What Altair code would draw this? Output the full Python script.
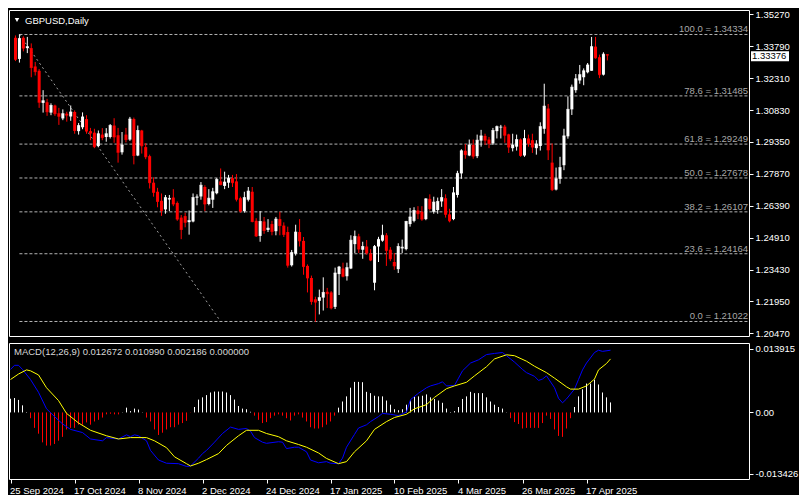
import json
import altair as alt
import pandas as pd

# ---------------- data ----------------
symbol_title = "GBPUSD,Daily"

opens = [1.3418,1.3320,1.3418,1.3370,1.3370,1.3285,1.3265,1.3116,1.3119,1.3071,
1.3104,1.3068,1.3044,1.3066,1.3053,1.3074,1.2985,1.3003,1.3041,1.2985,
1.2978,1.2916,1.2969,1.2958,1.2958,1.3011,1.2966,1.2887,1.2969,1.2946,
1.3041,1.2872,1.2988,1.2911,1.2869,1.2746,1.2704,1.2662,1.2622,1.2668,
1.2677,1.2652,1.2584,1.2591,1.2563,1.2566,1.2677,1.2682,1.2726,1.2647,
1.2667,1.2697,1.2752,1.2731,1.2746,1.2767,1.2752,1.2674,1.2614,1.2667,
1.2704,1.2569,1.2499,1.2566,1.2527,1.2554,1.2521,1.2577,1.2547,1.2517,
1.2363,1.2417,1.2517,1.2476,1.2360,1.2304,1.2205,1.2198,1.2213,1.2240,
1.2237,1.2170,1.2322,1.2348,1.2312,1.2348,1.2461,1.2497,1.2435,1.2450,
1.2417,1.2282,1.2450,1.2477,1.2502,1.2435,1.2378,1.2345,1.2441,1.2438,
1.2554,1.2569,1.2617,1.2611,1.2577,1.2671,1.2611,1.2619,1.2659,1.2674,
1.2599,1.2577,1.2689,1.2789,1.2894,1.2872,1.2921,1.2869,1.2941,1.2963,
1.2946,1.2928,1.2985,1.3003,1.3006,1.2970,1.2906,1.2913,1.2946,1.2872,
1.2951,1.2943,1.2906,1.2916,1.2996,1.3090,1.2839,1.2714,1.2764,1.2827,
1.2961,1.3086,1.3175,1.3220,1.3235,1.3258,1.3265,1.3377,1.3328,1.3247,
1.3341]

highs = [1.3429,1.3434,1.3425,1.3422,1.3392,1.3306,1.3273,1.3175,1.3135,1.3114,
1.3108,1.3093,1.3086,1.3075,1.3104,1.3081,1.3023,1.3072,1.3059,1.3000,
1.2996,1.2988,1.2999,1.2999,1.3018,1.3045,1.3000,1.2981,1.3000,1.3051,
1.3048,1.3011,1.2991,1.2929,1.2876,1.2771,1.2722,1.2696,1.2689,1.2689,
1.2716,1.2659,1.2596,1.2607,1.2617,1.2696,1.2692,1.2749,1.2734,1.2716,
1.2722,1.2767,1.2812,1.2797,1.2782,1.2782,1.2786,1.2681,1.2704,1.2726,
1.2726,1.2581,1.2614,1.2587,1.2577,1.2569,1.2587,1.2611,1.2562,1.2542,
1.2434,1.2551,1.2577,1.2494,1.2367,1.2315,1.2217,1.2250,1.2307,1.2258,
1.2243,1.2352,1.2360,1.2375,1.2375,1.2502,1.2524,1.2509,1.2472,1.2480,
1.2438,1.2457,1.2495,1.2551,1.2512,1.2447,1.2420,1.2465,1.2482,1.2569,
1.2629,1.2632,1.2637,1.2637,1.2674,1.2692,1.2681,1.2677,1.2716,1.2692,
1.2625,1.2726,1.2801,1.2901,1.2925,1.2946,1.2946,1.2969,1.2991,1.2973,
1.2958,1.3000,1.3011,1.3014,1.3014,1.2973,1.2973,1.2969,1.2951,1.2991,
1.2969,1.2973,1.2943,1.3026,1.3205,1.3111,1.2928,1.2816,1.2866,1.2996,
1.3146,1.3201,1.3250,1.3292,1.3276,1.3301,1.3422,1.3422,1.3340,1.3351,
1.3341]

lows = [1.3310,1.3303,1.3355,1.3347,1.3235,1.3243,1.3093,1.3071,1.3056,1.3059,
1.3056,1.3014,1.3036,1.3029,1.3033,1.2973,1.2969,1.2994,1.2973,1.2943,
1.2906,1.2910,1.2943,1.2936,1.2951,1.2931,1.2839,1.2876,1.2933,1.2940,
1.2831,1.2869,1.2881,1.2855,1.2719,1.2681,1.2632,1.2592,1.2602,1.2614,
1.2637,1.2569,1.2484,1.2539,1.2505,1.2562,1.2641,1.2667,1.2614,1.2641,
1.2629,1.2692,1.2734,1.2716,1.2722,1.2726,1.2659,1.2607,1.2607,1.2659,
1.2562,1.2494,1.2472,1.2509,1.2517,1.2502,1.2502,1.2502,1.2494,1.2352,
1.2357,1.2408,1.2450,1.2319,1.2237,1.2180,1.2101,1.2135,1.2153,1.2165,
1.2158,1.2160,1.2225,1.2307,1.2292,1.2345,1.2420,1.2420,1.2393,1.2412,
1.2382,1.2247,1.2378,1.2472,1.2360,1.2382,1.2342,1.2327,1.2420,1.2432,
1.2542,1.2562,1.2577,1.2569,1.2572,1.2617,1.2602,1.2602,1.2634,1.2584,
1.2562,1.2572,1.2677,1.2764,1.2857,1.2869,1.2857,1.2860,1.2913,1.2921,
1.2906,1.2921,1.2951,1.2951,1.2931,1.2884,1.2891,1.2895,1.2866,1.2866,
1.2913,1.2884,1.2876,1.2895,1.2973,1.2851,1.2707,1.2710,1.2741,1.2804,
1.2950,1.3060,1.3163,1.3205,1.3198,1.3253,1.3265,1.3321,1.3231,1.3243,
1.3313]

closes = [1.3318,1.3415,1.3370,1.3377,1.3280,1.3261,1.3119,1.3126,1.3075,1.3104,
1.3066,1.3054,1.3066,1.3059,1.3074,1.2988,1.3011,1.3051,1.2985,1.2976,
1.2913,1.2973,1.2955,1.2973,1.3011,1.2958,1.2887,1.2921,1.2946,1.3041,
1.2872,1.2988,1.2917,1.2866,1.2746,1.2701,1.2659,1.2617,1.2677,1.2673,
1.2647,1.2577,1.2529,1.2562,1.2570,1.2677,1.2680,1.2734,1.2647,1.2674,
1.2704,1.2761,1.2737,1.2749,1.2767,1.2746,1.2669,1.2614,1.2677,1.2707,
1.2566,1.2499,1.2566,1.2524,1.2535,1.2520,1.2577,1.2547,1.2506,1.2363,
1.2422,1.2517,1.2476,1.2357,1.2304,1.2195,1.2192,1.2213,1.2237,1.2231,
1.2165,1.2327,1.2355,1.2312,1.2352,1.2479,1.2497,1.2438,1.2450,1.2420,
1.2387,1.2450,1.2483,1.2502,1.2432,1.2393,1.2360,1.2450,1.2447,1.2566,
1.2587,1.2617,1.2602,1.2577,1.2671,1.2626,1.2656,1.2659,1.2677,1.2599,
1.2569,1.2699,1.2789,1.2894,1.2876,1.2921,1.2869,1.2943,1.2963,1.2943,
1.2928,1.2988,1.3006,1.3004,1.2966,1.2911,1.2921,1.2946,1.2872,1.2951,
1.2928,1.2911,1.2925,1.3006,1.3101,1.2898,1.2714,1.2764,1.2816,1.2963,
1.3086,1.3189,1.3228,1.3247,1.3265,1.3292,1.3377,1.3325,1.3247,1.3342,
1.33376]

bid_price = 1.33376

price_ticks = [1.35270, 1.33790, 1.32310, 1.30830, 1.29350, 1.27870,
               1.26390, 1.24910, 1.23430, 1.21950, 1.20470]

date_tick_bars = [0, 16, 32, 48, 64, 80, 96, 112, 128, 144]
date_tick_labels = ["25 Sep 2024", "17 Oct 2024", "8 Nov 2024", "2 Dec 2024",
                    "24 Dec 2024", "17 Jan 2025", "10 Feb 2025", "4 Mar 2025",
                    "26 Mar 2025", "17 Apr 2025"]

fib_pct = [100.0, 78.6, 61.8, 50.0, 38.2, 23.6, 0.0]
fib_price = [1.34334, 1.31485, 1.29249, 1.27678, 1.26107, 1.24164, 1.21022]
fib_anchor_bars = [1, 52]

hist = [0.00300,0.00316,0.00274,0.00155,0.00010,-0.00126,-0.00337,-0.00464,-0.00654,-0.00724,
-0.00724,-0.00689,-0.00618,-0.00534,-0.00372,-0.00337,-0.00337,-0.00267,-0.00267,-0.00218,
-0.00267,-0.00197,-0.00162,-0.00112,-0.00042,-0.00028,-0.00042,-0.00042,0.00005,0.00105,
0.00028,0.00084,0.00063,0.00005,-0.00112,-0.00197,-0.00372,-0.00492,-0.00443,-0.00372,
-0.00323,-0.00323,-0.00267,-0.00232,-0.00183,-0.00005,0.00119,0.00281,0.00330,0.00379,
0.00436,0.00457,0.00457,0.00457,0.00436,0.00379,0.00281,0.00141,0.00084,0.00070,
0.00014,-0.00070,-0.00162,-0.00232,-0.00211,-0.00126,-0.00070,-0.00042,-0.00070,-0.00126,
-0.00176,-0.00070,-0.00042,-0.00112,-0.00197,-0.00323,-0.00351,-0.00351,-0.00323,-0.00267,
-0.00197,-0.00070,0.00105,0.00239,0.00351,0.00541,0.00668,0.00668,0.00661,0.00450,
0.00422,0.00365,0.00351,0.00351,0.00260,0.00169,0.00070,0.00049,0.00070,0.00169,
0.00260,0.00351,0.00351,0.00365,0.00394,0.00330,0.00295,0.00260,0.00211,0.00084,
0.00010,0.00028,0.00119,0.00295,0.00351,0.00450,0.00422,0.00422,0.00422,0.00330,
0.00239,0.00169,0.00119,0.00084,0.00005,-0.00126,-0.00211,-0.00253,-0.00351,-0.00337,
-0.00337,-0.00337,-0.00337,-0.00232,-0.00070,-0.00141,-0.00372,-0.00513,-0.00534,-0.00351,
-0.00126,0.00119,0.00351,0.00506,0.00632,0.00632,0.00717,0.00611,0.00436,0.00330,
0.00219]

macd_bars = [0,1,2,3,5,7,9,11,13,15,18,20,23,24,27,29,30,31,32,34,
35,37,39,42,44,45,47,48,49,51,53,55,57,59,60,61,63,64,67,68,
69,71,72,74,75,77,79,80,82,83,84,86,87,89,90,92,93,95,97,99,
100,102,104,105,107,108,109,111,112,113,115,117,119,121,123,124,126,128,129,131,
132,133,134,136,137,138,139,141,142,143,144,146,147,148,150]
macd_vals = [0.0094,0.0103,0.0103,0.0094,0.0072,0.0044,0.0008,-0.0009,-0.0025,-0.0037,
-0.0044,-0.0058,-0.0062,-0.0055,-0.0058,-0.0049,-0.0053,-0.0049,-0.0051,-0.0062,
-0.0083,-0.0104,-0.0111,-0.0112,-0.0118,-0.0117,-0.0100,-0.0090,-0.0083,-0.0065,
-0.0046,-0.0032,-0.0037,-0.0035,-0.0041,-0.0055,-0.0065,-0.00675,-0.0064,-0.0065,
-0.0079,-0.0076,-0.0076,-0.0086,-0.0104,-0.0110,-0.01075,-0.0111,-0.0112,-0.0100,
-0.0076,-0.0048,-0.0034,-0.0027,-0.0020,-0.0009,-0.0002,-0.0004,-0.0007,0.0001,
0.0028,0.0042,0.0054,0.0058,0.0063,0.0067,0.0058,0.0059,0.0075,0.0091,
0.0108,0.0115,0.01265,0.0129,0.0131,0.0124,0.0110,0.0094,0.0087,0.0079,
0.0070,0.0073,0.0080,0.0054,0.0031,0.0021,0.00295,0.0051,0.0072,0.0093,
0.0108,0.0131,0.0136,0.01335,0.0136]

signal_bars = [0,2,4,5,7,9,12,14,17,20,24,27,30,34,36,39,41,44,45,47,
49,52,54,57,59,62,64,67,69,72,74,77,79,82,84,86,89,91,94,96,
99,101,104,106,109,111,114,116,119,121,124,126,129,131,134,136,139,140,142,144,
146,147,149,150]
signal_vals = [0.0072,0.0084,0.0093,0.0091,0.0082,0.0054,0.0026,-0.0002,-0.0023,-0.0039,
-0.0051,-0.0058,-0.0055,-0.0055,-0.0062,-0.0077,-0.0097,-0.0112,-0.0117,-0.0111,
-0.0103,-0.0090,-0.0072,-0.0051,-0.0039,-0.0039,-0.0046,-0.0053,-0.0062,-0.0070,
-0.0076,-0.00885,-0.01005,-0.0112,-0.01075,-0.0086,-0.0062,-0.0037,-0.0020,-0.0011,
-0.0004,0.0008,0.0017,0.0033,0.0052,0.0058,0.0066,0.0080,0.0100,0.0117,
0.0126,0.0124,0.0112,0.0101,0.0087,0.0075,0.0056,0.0051,0.0051,0.0058,
0.0073,0.0093,0.0107,0.0117]

macd_ticks = [0.013915, 0.0, -0.013426]
macd_header_vals = [0.012672, 0.010990, 0.002186, 0.000000]

# ---------------- layout / style ----------------
W = 740
H_MAIN = 326
H_MACD = 136
FONT = "Liberation Sans"
FS = 9.5
bar_domain = [-0.375, -0.375 + W / 4]       # 4 px per daily bar
price_domain = [1.20349, 1.35469]
macd_domain = [-0.014548, 0.015180]

xscale = alt.Scale(domain=bar_domain, nice=False, zero=False)
yscale = alt.Scale(domain=price_domain, nice=False, zero=False)
mscale = alt.Scale(domain=macd_domain, nice=False, zero=False)

yaxis = alt.Axis(orient="right", values=price_ticks, format=".5f", tickSize=4,
                 labelPadding=2, title=None, labelBaseline="middle")
maxis = alt.Axis(orient="right", values=macd_ticks, tickSize=4, labelPadding=2,
                 title=None, labelBaseline="middle",
                 labelExpr="datum.value == 0 ? '0.00' : replace(format(datum.value, '.6f'), '\u2212', '-')")
xaxis = alt.Axis(orient="bottom", values=date_tick_bars, tickSize=4, labelAlign="left",
                 labelBaseline="top", labelPadding=2, labelOffset=-1, labelFlush=False,
                 labelOverlap=False, title=None,
                 labelExpr=f"{json.dumps(date_tick_labels)}[indexof({json.dumps(date_tick_bars)}, datum.value)]")

# ---------------- tables ----------------
cdf = pd.DataFrame({"k": list(range(len(opens))), "o": opens, "h": highs, "l": lows, "c": closes})
cdf["dir"] = ["up" if c >= o else "down" for o, c in zip(opens, closes)]
col = alt.Color("dir:N", scale=alt.Scale(domain=["up", "down"], range=["#ffffff", "#ff0000"]), legend=None)

fdf = pd.DataFrame({"pct": fib_pct, "price": fib_price})
fdf["label"] = [f"{p:.1f} = {v:.5f}" for p, v in zip(fib_pct, fib_price)]
fdf["k0"] = fib_anchor_bars[0]
diag = pd.DataFrame({"k": fib_anchor_bars, "price": [fib_price[0], fib_price[-1]]})

hdf = pd.DataFrame({"k": list(range(len(hist))), "h": hist})
hdf["sign"] = ["pos" if v >= 0 else "neg" for v in hist]
mdf = pd.DataFrame({"k": macd_bars, "v": macd_vals})
sdf = pd.DataFrame({"k": signal_bars, "v": signal_vals})

X = alt.X("k:Q", scale=xscale, axis=None)

# ---------------- main panel ----------------
fib_lines = alt.Chart(fdf).mark_rule(strokeDash=[3, 2], color="#b4b4b4", strokeWidth=1).encode(
    x=alt.X("k0:Q", scale=xscale, axis=None), x2=alt.value(W),
    y=alt.Y("price:Q", scale=yscale, axis=yaxis))
fib_diag = alt.Chart(diag).mark_line(strokeDash=[2, 3], color="#a0a0a0", strokeWidth=1).encode(
    x=X, y=alt.Y("price:Q", scale=yscale, axis=yaxis))
wicks = alt.Chart(cdf).mark_rule(strokeWidth=1).encode(
    x=X, y=alt.Y("l:Q", scale=yscale, axis=yaxis), y2="h:Q", color=col)
bodies = alt.Chart(cdf).mark_bar(width=3).encode(
    x=X, y=alt.Y("o:Q", scale=yscale, axis=yaxis), y2="c:Q", color=col)
edges = alt.Chart(cdf).mark_tick(orient="horizontal", size=3, thickness=1).encode(
    x=X, y=alt.Y("c:Q", scale=yscale, axis=yaxis), color=col)
fib_text = alt.Chart(fdf).mark_text(align="right", baseline="alphabetic", dy=-2,
                                    color="#a8a8a8", font=FONT, fontSize=FS).encode(
    x=alt.value(W - 1), y=alt.Y("price:Q", scale=yscale, axis=yaxis), text="label:N")
tdf = pd.DataFrame({"t": [symbol_title]})
title_tri = alt.Chart(tdf).mark_point(shape="triangle-down", filled=True, size=20,
                                      color="#ffffff", opacity=1).encode(
    x=alt.value(8), y=alt.value(10))
title_txt = alt.Chart(tdf).mark_text(align="left", baseline="alphabetic", color="#ffffff",
                                     font=FONT, fontSize=FS).encode(
    x=alt.value(16), y=alt.value(14), text="t:N")
bdf = pd.DataFrame({"p": [bid_price]})
bid_box = alt.Chart(bdf).mark_tick(orient="horizontal", size=38, thickness=10,
                                   color="#ffffff", opacity=1, yOffset=1).encode(
    x=alt.value(W + 21), y=alt.Y("p:Q", scale=yscale, axis=yaxis))
bid_txt = alt.Chart(bdf).mark_text(align="left", baseline="middle", color="#000000",
                                   font=FONT, fontSize=FS, yOffset=1).encode(
    x=alt.value(W + 3), y=alt.Y("p:Q", scale=yscale, axis=yaxis),
    text=alt.Text("p:Q", format=".5f"))

main = alt.layer(fib_lines, fib_diag, wicks, bodies, edges, fib_text,
                 title_tri, title_txt, bid_box, bid_txt).properties(width=W, height=H_MAIN)

# ---------------- MACD panel ----------------
XB = alt.X("k:Q", scale=xscale, axis=xaxis)
hbars = alt.Chart(hdf).mark_rule(strokeWidth=1).encode(
    x=XB, y=alt.Y("h:Q", scale=mscale, axis=maxis), y2=alt.Y2Datum(0),
    color=alt.Color("sign:N", scale=alt.Scale(domain=["pos", "neg"], range=["#ffffff", "#e01010"]), legend=None))
macd_line = alt.Chart(mdf).mark_line(color="#0000ff", strokeWidth=1).encode(
    x=XB, y=alt.Y("v:Q", scale=mscale, axis=maxis))
sig_line = alt.Chart(sdf).mark_line(color="#ffff00", strokeWidth=1).encode(
    x=XB, y=alt.Y("v:Q", scale=mscale, axis=maxis))
header = "MACD(12,26,9) " + " ".join(f"{v:.6f}" for v in macd_header_vals)
mh = alt.Chart(pd.DataFrame({"t": [header]})).mark_text(
    align="left", baseline="alphabetic", color="#d8d8d8", font=FONT, fontSize=FS).encode(
    x=alt.value(5), y=alt.value(12), text="t:N")

macd = alt.layer(hbars, macd_line, sig_line, mh).properties(width=W, height=H_MACD)

chart = alt.vconcat(main, macd, spacing=3).properties(
    padding={"left": 0, "top": 0, "right": 0, "bottom": 0},
    background="#000000",
).configure_view(stroke="#ffffff", strokeWidth=1).configure_axis(
    labelColor="#ffffff", tickColor="#ffffff", labelFont=FONT, labelFontSize=FS,
    grid=False, domain=False)

chart.save("out.html", embed_options={"renderer": "svg", "actions": False})
